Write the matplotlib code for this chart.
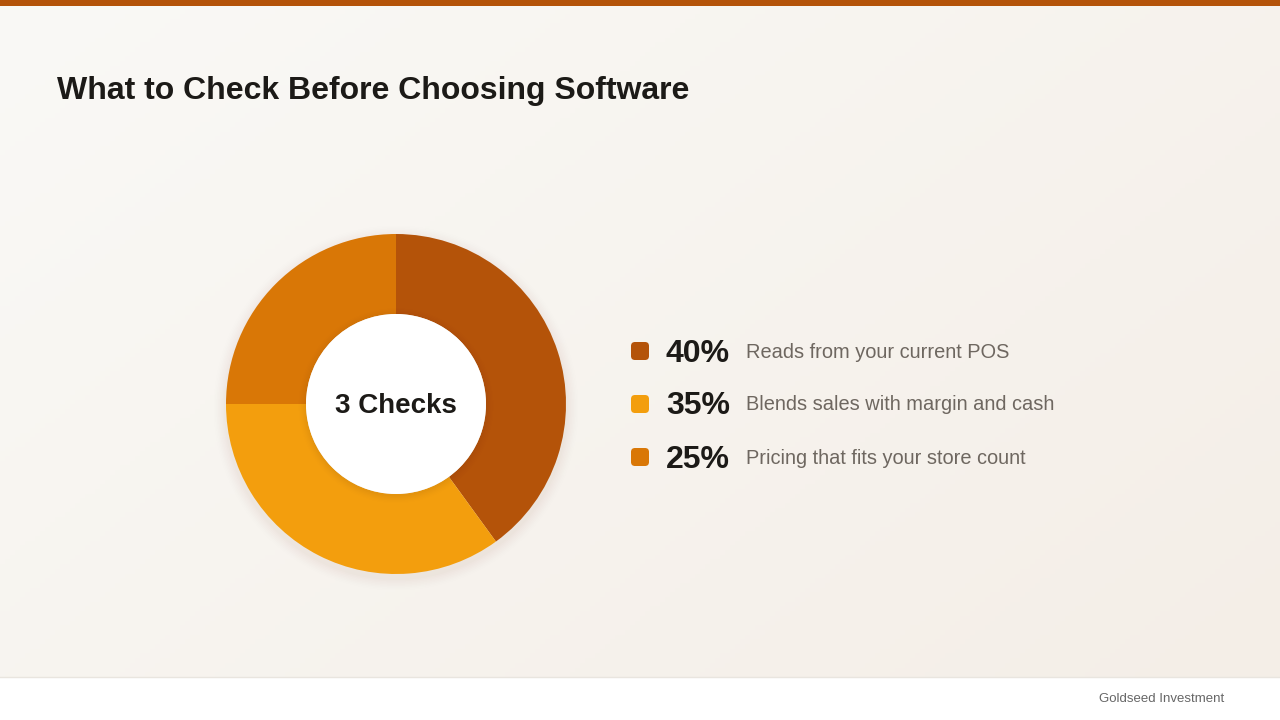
import matplotlib
matplotlib.use("Agg")
import matplotlib.pyplot as plt
import numpy as np
from matplotlib.patches import FancyBboxPatch, Rectangle, Circle

# Data
categories = ["Reads from your current POS", "Blends sales with margin and cash", "Pricing that fits your store count"]
values = [40, 35, 25]
pct_labels = ["40%", "35%", "25%"]
colors = ["#B45309", "#F39E0D", "#D97706"]
title = "What to Check Before Choosing Software"
center_label = "3 Checks"
footer = "Goldseed Investment"

plt.rcParams['font.family'] = ['Liberation Sans', 'DejaVu Sans']

W, H = 1280, 720
fig = plt.figure(figsize=(12.8, 7.2), dpi=100)

# background axes in pixel coordinates
bg = fig.add_axes([0, 0, 1, 1])
bg.set_xlim(0, W)
bg.set_ylim(H, 0)
bg.axis('off')

# gradient background
c1 = np.array([0xFA, 0xF9, 0xF6]) / 255
c2 = np.array([0xF4, 0xEE, 0xE7]) / 255
xx, yy = np.meshgrid(np.linspace(0, 1, 256), np.linspace(0, 1, 144))
t = np.clip((xx * 0.6 + yy * 0.4), 0, 1)[..., None]
grad = c1 * (1 - t) + c2 * t
bg.imshow(grad, extent=[0, W, 677, 0], aspect='auto', zorder=0)
bg.set_xlim(0, W)
bg.set_ylim(H, 0)

# top bar
bg.add_patch(Rectangle((0, 0), W, 6, color="#B45309", zorder=2, lw=0))
# footer
bg.add_patch(Rectangle((0, 677), W, 43, color="white", zorder=2, lw=0))
bg.plot([0, W], [677, 677], color="#E9E5DF", lw=1, zorder=3)
bg.text(1224, 698, footer, ha='right', va='center_baseline', fontsize=9.5, color="#666666", zorder=4)

# title
bg.text(57, 88, title, ha='left', va='center_baseline', fontsize=23, fontweight='bold', color="#1C1A17", zorder=4)

# donut shadow
cx, cy, R, r = 396, 404, 170, 90
for i, a in enumerate(np.linspace(0.012, 0.004, 8)):
    bg.add_patch(Circle((cx, cy + 4), R + 2 + i * 1.5, color="#7A5A30", alpha=a, lw=0, zorder=1))

# donut
dax = fig.add_axes([(cx - R) / W, (H - cy - R) / H, 2 * R / W, 2 * R / H])
dax.pie(values, colors=colors, startangle=90, counterclock=False, radius=1,
        wedgeprops=dict(width=(R - r) / R, linewidth=0))
dax.set_xlim(-1, 1)
dax.set_ylim(-1, 1)
dax.set_aspect('equal')
dax.axis('off')
# inner shadow + white center
for i, a in enumerate(np.linspace(0.03, 0.005, 6)):
    dax.add_patch(Circle((0, -0.01), r / R + 0.005 + i * 0.008, color="#7A4A10", alpha=a, lw=0, zorder=3))
dax.add_patch(Circle((0, 0), r / R, color="white", lw=0, zorder=4))
dax.text(0, 0.005, center_label, ha='center', va='center_baseline', fontsize=20, fontweight='bold', color="#1C1A17", zorder=5)

# legend
rows_y = [351, 404, 457]
for y, col, p, lab in zip(rows_y, colors, pct_labels, categories):
    bg.add_patch(FancyBboxPatch((631, y - 9), 18, 18, boxstyle="round,pad=0,rounding_size=4",
                                color=col, lw=0, zorder=4))
    bg.text(666, y - 1, p, ha='left', va='center_baseline', fontsize=23, fontweight='bold', color="#1C1A17", zorder=4)
    bg.text(746, y - 1, lab, ha='left', va='center_baseline', fontsize=14.4, color="#6E6760", zorder=4)

fig.savefig("out.png", dpi=100)
